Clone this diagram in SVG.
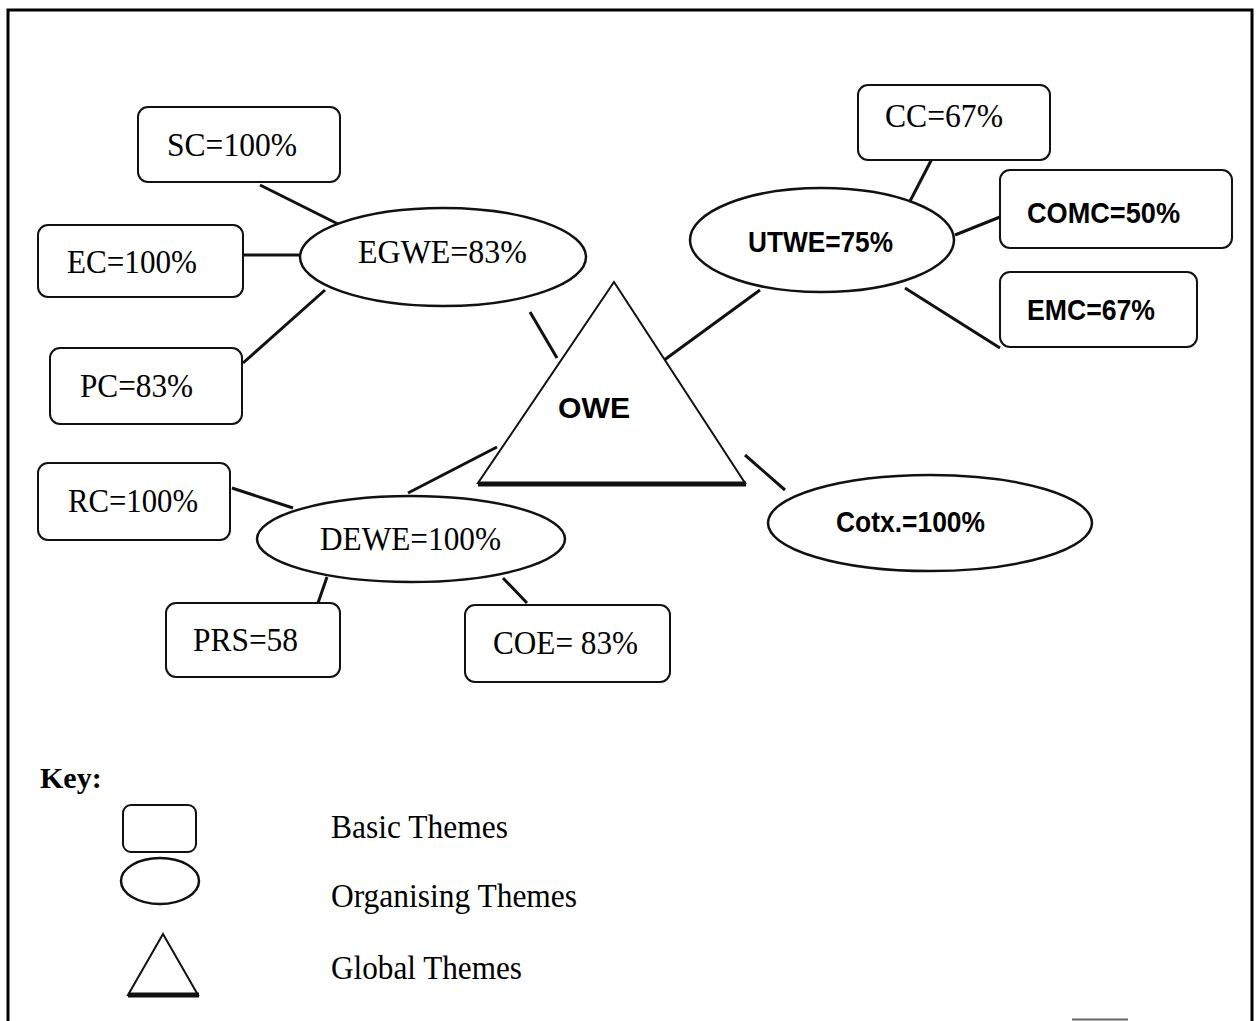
<svg xmlns="http://www.w3.org/2000/svg" width="1260" height="1021" viewBox="0 0 1260 1021">
<style>
.box{fill:#fff;stroke:#111;stroke-width:2}
.ell{fill:#fff;stroke:#111;stroke-width:2.5}
.tri{fill:#fff;stroke:#111;stroke-width:2}
.base{stroke:#111;stroke-width:5}
.con line{stroke:#111;stroke-width:3}
.serif{font-family:"Liberation Serif","Times New Roman",serif;font-size:33px;fill:#000}
.sans{font-family:"Liberation Sans",Arial,sans-serif;font-size:30px;fill:#000;font-weight:bold}
.frame{stroke:#000;stroke-width:3;fill:none}
</style>
<rect width="1260" height="1021" fill="#fff"/>
<path class="frame" d="M8,1021 V10 H1252 V1021"/>
<line x1="1072" y1="1019.5" x2="1128" y2="1019.5" stroke="#666" stroke-width="2"/>

<g class="con" id="connectors">
<line x1="260" y1="185" x2="340" y2="225"/>
<line x1="243" y1="255" x2="300" y2="255"/>
<line x1="243" y1="363" x2="325" y2="290"/>
<line x1="530" y1="312" x2="557" y2="358"/>
<line x1="656" y1="366" x2="760" y2="290"/>
<line x1="935" y1="153" x2="908" y2="205"/>
<line x1="1000" y1="217" x2="955" y2="235"/>
<line x1="905" y1="288" x2="1000" y2="348"/>
<line x1="497" y1="447" x2="408" y2="493"/>
<line x1="232" y1="488" x2="293" y2="508"/>
<line x1="318" y1="603" x2="327" y2="577"/>
<line x1="527" y1="603" x2="503" y2="578"/>
<line x1="745" y1="455" x2="785" y2="490"/>
</g>

<g id="SC"><rect class="box" x="138" y="107" width="202" height="75" rx="10"/><text class="serif" x="167" y="156" textLength="130" lengthAdjust="spacingAndGlyphs">SC=100%</text></g>
<g id="EC"><rect class="box" x="38" y="225" width="205" height="72" rx="10"/><text class="serif" x="67" y="273" textLength="130" lengthAdjust="spacingAndGlyphs">EC=100%</text></g>
<g id="PC"><rect class="box" x="50" y="348" width="192" height="76" rx="10"/><text class="serif" x="80" y="397" textLength="113" lengthAdjust="spacingAndGlyphs">PC=83%</text></g>
<g id="CC"><rect class="box" x="858" y="85" width="192" height="75" rx="10"/><text class="serif" x="885" y="127" textLength="118" lengthAdjust="spacingAndGlyphs">CC=67%</text></g>
<g id="COMC"><rect class="box" x="1000" y="170" width="232" height="78" rx="10"/><text class="sans" x="1027" y="223" textLength="153" lengthAdjust="spacingAndGlyphs">COMC=50%</text></g>
<g id="EMC"><rect class="box" x="1000" y="272" width="197" height="75" rx="10"/><text class="sans" x="1027" y="320" textLength="128" lengthAdjust="spacingAndGlyphs">EMC=67%</text></g>
<g id="RC"><rect class="box" x="38" y="463" width="192" height="77" rx="10"/><text class="serif" x="68" y="512" textLength="130" lengthAdjust="spacingAndGlyphs">RC=100%</text></g>
<g id="PRS"><rect class="box" x="166" y="603" width="174" height="74" rx="10"/><text class="serif" x="193" y="651" textLength="105" lengthAdjust="spacingAndGlyphs">PRS=58</text></g>
<g id="COE"><rect class="box" x="465" y="605" width="205" height="77" rx="10"/><text class="serif" x="493" y="654" textLength="145" lengthAdjust="spacingAndGlyphs">COE= 83%</text></g>

<g id="EGWE"><ellipse class="ell" cx="443" cy="257" rx="143" ry="49"/><text class="serif" x="358" y="263" textLength="169" lengthAdjust="spacingAndGlyphs">EGWE=83%</text></g>
<g id="UTWE"><ellipse class="ell" cx="822" cy="240" rx="132" ry="52"/><text class="sans" x="748" y="252" textLength="145" lengthAdjust="spacingAndGlyphs">UTWE=75%</text></g>
<g id="DEWE"><ellipse class="ell" cx="411" cy="539" rx="154" ry="43"/><text class="serif" x="320" y="550" textLength="181" lengthAdjust="spacingAndGlyphs">DEWE=100%</text></g>
<g id="Cotx"><ellipse class="ell" cx="930" cy="523" rx="162" ry="48"/><text class="sans" x="836" y="532" textLength="149" lengthAdjust="spacingAndGlyphs">Cotx.=100%</text></g>

<g id="OWE">
<polygon class="tri" points="614,282 478,483 745,483"/>
<line class="base" x1="478" y1="484" x2="746" y2="484"/>
<text class="sans" x="558" y="418" textLength="72" lengthAdjust="spacingAndGlyphs">OWE</text>
</g>

<g id="key">
<text x="40" y="788" font-family="Liberation Serif,serif" font-weight="bold" font-size="30px">Key:</text>
<rect class="box" x="123" y="805" width="73" height="47" rx="8"/>
<ellipse class="ell" cx="160" cy="881" rx="39" ry="23"/>
<polygon class="tri" points="163,934 128,995 198,995"/>
<line class="base" x1="128" y1="995" x2="199" y2="995" stroke-width="3"/>
<text class="serif" x="331" y="838" textLength="177" lengthAdjust="spacingAndGlyphs">Basic Themes</text>
<text class="serif" x="331" y="907" textLength="246" lengthAdjust="spacingAndGlyphs">Organising Themes</text>
<text class="serif" x="331" y="979" textLength="191" lengthAdjust="spacingAndGlyphs">Global Themes</text>
</g>
</svg>
